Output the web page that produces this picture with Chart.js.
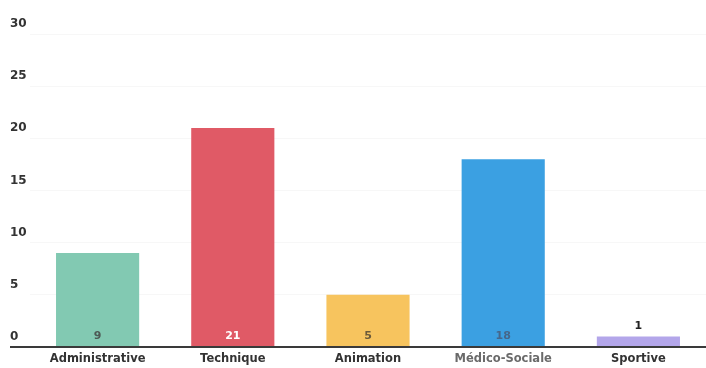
<!DOCTYPE html>
<html>
<head>
<meta charset="utf-8">
<script src="https://cdn.jsdelivr.net/npm/chart.js@4/dist/chart.umd.min.js"></script>
<style>
  html, body { margin: 0; padding: 0; background: #fff; }
  #wrap { width: 706px; height: 368px; }
</style>
</head>
<body>
<div id="wrap"><canvas id="chart"></canvas></div>
<script>
const categories = ['Administrative', 'Technique', 'Animation', 'Médico-Sociale', 'Sportive'];
const counts = [9, 21, 5, 18, 1];
const barColors = ['#82c9b2', '#e05a66', '#f7c45e', '#3ba0e2', '#b3a6ea'];
const valueColors = ['#4d5a55', '#ffffff', '#6b5a3a', '#46678a', '#222222'];
const categoryColors = ['#333333', '#333333', '#333333', '#6a6a6a', '#333333'];
const yTicks = [0, 5, 10, 15, 20, 25, 30];

const labelFont = 'DejaVu Sans, sans-serif';

// writes the count at the foot of each bar, or above it when the bar is too short
const valueLabels = {
  id: 'valueLabels',
  afterDatasetsDraw(chart) {
    const ctx = chart.ctx;
    const meta = chart.getDatasetMeta(0);
    ctx.save();
    ctx.font = 'bold 11px ' + labelFont;
    ctx.textAlign = 'center';
    ctx.textBaseline = 'middle';
    meta.data.forEach((bar, i) => {
      const h = bar.base - bar.y;
      ctx.fillStyle = valueColors[i];
      if (h > 22) {
        ctx.fillText(counts[i], bar.x, bar.base - 10);
      } else {
        ctx.fillText(counts[i], bar.x, bar.y - 10);
      }
    });
    ctx.restore();
  }
};

new Chart(document.getElementById('chart'), {
  type: 'bar',
  data: {
    labels: categories,
    datasets: [{
      data: counts,
      backgroundColor: barColors,
      borderWidth: 0,
      barPercentage: 0.615,
      categoryPercentage: 1
    }]
  },
  options: {
    responsive: true,
    maintainAspectRatio: false,
    animation: false,
    layout: { padding: { top: 34, left: 10, right: 0, bottom: 3 } },
    plugins: {
      legend: { display: false },
      tooltip: { enabled: false }
    },
    scales: {
      x: {
        grid: { display: false, tickLength: 0 },
        border: { display: false },
        afterFit(scale) { scale.height = 18; },
        ticks: {
          color: categoryColors,
          padding: 5,
          font: { family: labelFont, size: 11.5, weight: 'bold' }
        }
      },
      y: {
        min: 0,
        max: 30,
        afterBuildTicks(scale) {
          scale.ticks = yTicks.map(v => ({ value: v }));
        },
        afterFit(scale) { scale.width = 20; },
        border: { display: false },
        grid: {
          drawTicks: true,
          tickLength: 20,
          color: c => c.tick && c.tick.value === 0 ? '#3a3a3a' : 'rgba(0,0,0,0.03)',
          tickColor: c => c.tick && c.tick.value === 0 ? '#3a3a3a' : 'rgba(0,0,0,0)',
          lineWidth: c => c.tick && c.tick.value === 0 ? 2 : 1
        },
        ticks: {
          crossAlign: 'far',
          labelOffset: -10,
          color: '#333',
          font: { family: labelFont, size: 12, weight: 'bold' }
        }
      }
    }
  },
  plugins: [valueLabels]
});
</script>
</body>
</html>
